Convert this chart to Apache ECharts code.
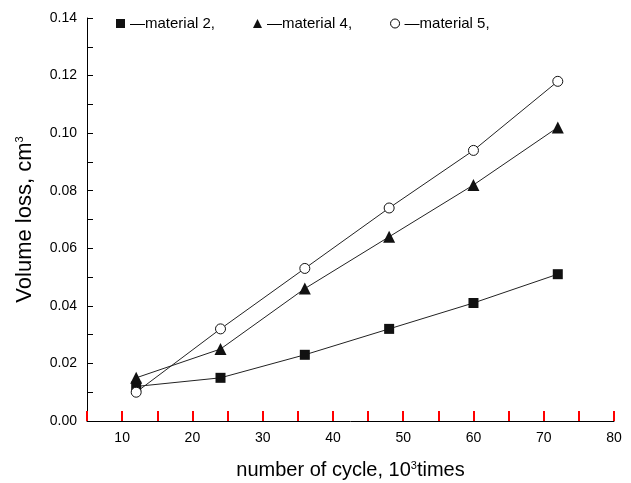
<!DOCTYPE html>
<html>
<head>
<meta charset="utf-8">
<script src="https://cdn.jsdelivr.net/npm/echarts@6/dist/echarts.min.js"></script>
<style>
html,body{margin:0;padding:0;background:#fff;}
#main{width:631px;height:483px;}
</style>
</head>
<body>
<div id="main"></div>
<script>
var cycles = [12, 24, 36, 48, 60, 72];
var material2 = [0.012, 0.015, 0.023, 0.032, 0.041, 0.051];
var material4 = [0.015, 0.025, 0.046, 0.064, 0.082, 0.102];
var material5 = [0.010, 0.032, 0.053, 0.074, 0.094, 0.118];
var names = ['material 2', 'material 4', 'material 5'];

function pairs(ys) {
    var out = [];
    for (var i = 0; i < cycles.length; i++) {
        out.push([cycles[i], ys[i]]);
    }
    return out;
}

var chart = echarts.init(document.getElementById('main'));
var font = 'Liberation Sans, Arial, sans-serif';
var supRich = {sup: {fontSize: 11, verticalAlign: 'top', padding: [0, 0, 10, 0], color: '#000'}};

var option = {
    animation: false,
    textStyle: {fontFamily: font},
    grid: {left: 87, right: 17, top: 18, bottom: 62, outerBoundsMode: 'none'},
    legend: {
        left: 111,
        top: 11,
        itemGap: 38,
        itemWidth: 9,
        itemHeight: 9,
        textStyle: {fontSize: 15, color: '#000'},
        formatter: function (n) { return '\u2014' + n + ','; },
        data: [
            {name: names[0], icon: 'rect'},
            {name: names[1], icon: 'triangle'},
            {name: names[2], icon: 'circle', itemStyle: {color: '#fff', borderColor: '#000', borderWidth: 1}}
        ]
    },
    xAxis: {
        type: 'value',
        min: 5,
        max: 80,
        interval: 5,
        name: 'number of cycle, 10{sup|3}times',
        nameLocation: 'middle',
        nameGap: 39,
        nameTextStyle: {fontSize: 20, color: '#000', rich: supRich},
        axisLine: {show: true, onZero: false, lineStyle: {color: '#000', width: 1}},
        axisTick: {show: true, inside: true, length: 10, lineStyle: {color: '#f00', width: 2}},
        axisLabel: {fontSize: 14, color: '#000', margin: 10,
            formatter: function (v) { return v % 10 === 0 ? String(v) : ''; }},
        splitLine: {show: false}
    },
    yAxis: {
        type: 'value',
        min: 0,
        max: 0.14,
        interval: 0.01,
        name: 'Volume loss, cm{sup|3}',
        nameLocation: 'middle',
        nameGap: 51,
        nameRotate: 90,
        nameTextStyle: {fontSize: 22, color: '#000', rich: supRich},
        axisLine: {show: true, lineStyle: {color: '#000', width: 1}},
        axisTick: {show: true, inside: true, length: 6, lineStyle: {color: '#000', width: 1}},
        axisLabel: {fontSize: 14, color: '#000', margin: 10,
            formatter: function (v) {
                return Math.round(v * 100) % 2 === 0 ? v.toFixed(2) : '';
            }},
        splitLine: {show: false}
    },
    series: [
        {
            name: names[0], type: 'line', data: pairs(material2),
            symbol: 'rect', symbolSize: 10,
            itemStyle: {color: '#111'},
            lineStyle: {color: '#222', width: 1}
        },
        {
            name: names[1], type: 'line', data: pairs(material4),
            symbol: 'triangle', symbolSize: 12,
            itemStyle: {color: '#111'},
            lineStyle: {color: '#222', width: 1}
        },
        {
            name: names[2], type: 'line', data: pairs(material5),
            symbol: 'circle', symbolSize: 10,
            itemStyle: {color: '#fff', borderColor: '#111', borderWidth: 1},
            lineStyle: {color: '#222', width: 1}
        }
    ]
};
chart.setOption(option);
</script>
</body>
</html>
